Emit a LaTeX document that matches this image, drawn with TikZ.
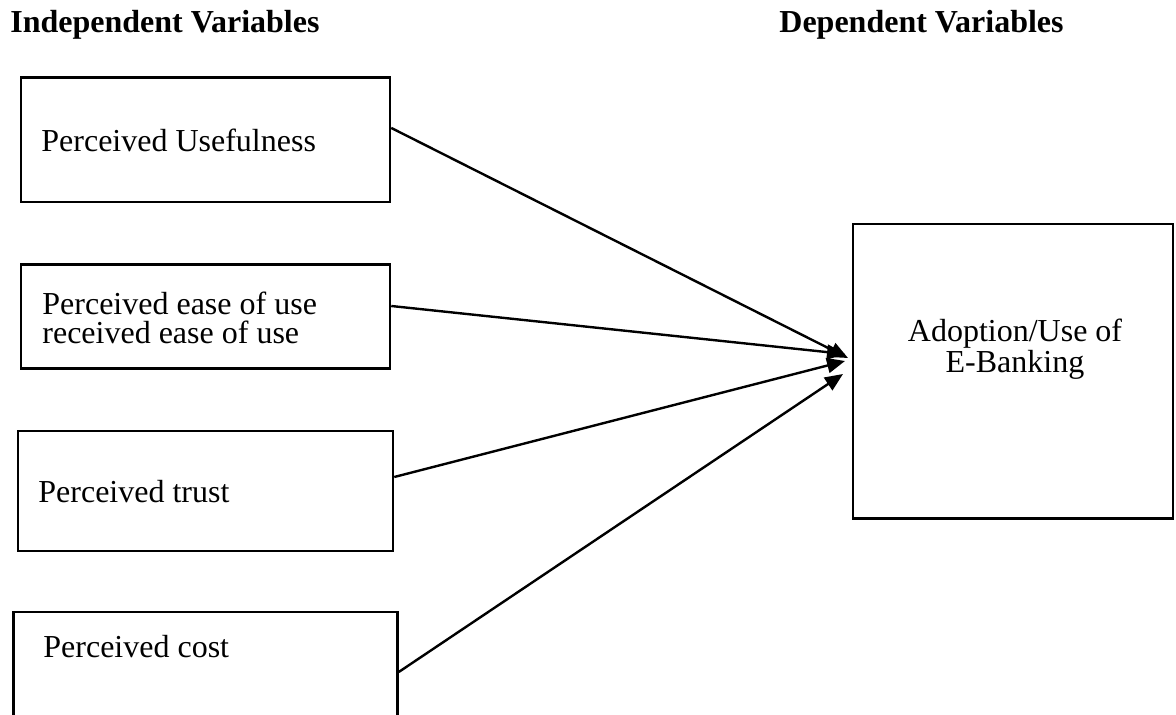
\documentclass[tikz,border=0pt]{standalone}
\usepackage{fontspec}
\setmainfont{Liberation Serif}
\usetikzlibrary{arrows.meta}
\tikzset{
  varbox/.style={draw, line width=1.25pt, inner sep=0pt},
  vartext/.style={anchor=base west, inner sep=0pt, font=\fontsize{16}{14.5}\selectfont, align=left},
  titre/.style={anchor=base west, inner sep=0pt, font=\fontsize{16}{19}\selectfont\bfseries},
  fleche/.style={line width=1.2pt, -{Triangle[length=9pt,width=7.5pt]}}
}
\begin{document}
\begin{tikzpicture}[x=0.5pt, y=-0.5pt]
\clip (0,0) rectangle (1176,715);
% Titres
\node[titre] (indep) at (10,33) {Independent Variables};
\node[titre] (dep) at (779,33) {Dependent Variables};
% Cadres de gauche
\node[varbox, minimum width=184.5pt, minimum height=62.25pt] (pu) at (205.5,139.75) {};
\node[varbox, minimum width=184.5pt, minimum height=52pt] (peou) at (205.5,316.5) {};
\node[varbox, minimum width=187.5pt, minimum height=60pt] (pt) at (205.5,491) {};
\node[varbox, minimum width=192pt, minimum height=64pt] (pc) at (205.5,676) {};
% Cadre de droite
\node[varbox, minimum width=160pt, minimum height=147.25pt] (adopt) at (1013,371.25) {};
% Textes (ancre sur la derniere ligne)
\node[vartext] (tpu) at (41,152) {Perceived Usefulness};
\node[vartext] (tpeou) at (42,344) {Perceived ease of use\\received ease of use};
\node[vartext] (tpt) at (38,502) {Perceived trust};
\node[vartext] (tpc) at (43,657) {Perceived cost};
\node[vartext, anchor=base, align=center] (tadopt) at (1015,373) {Adoption/Use of\\E-Banking};
% Pointes des fleches
\coordinate (tip1) at (848,358);
\coordinate (tip2) at (845,354);
\coordinate (tip3) at (845,361);
\coordinate (tip4) at (843,374);
% Fleches
\draw[fleche] ([yshift=5.9pt]pu.east) -- (tip1);
\draw[fleche] ([yshift=5.25pt]peou.east) -- (tip2);
\draw[fleche] ([yshift=7pt]pt.east) -- (tip3);
\draw[fleche] ([yshift=2pt]pc.east) -- (tip4);
\end{tikzpicture}
\end{document}
